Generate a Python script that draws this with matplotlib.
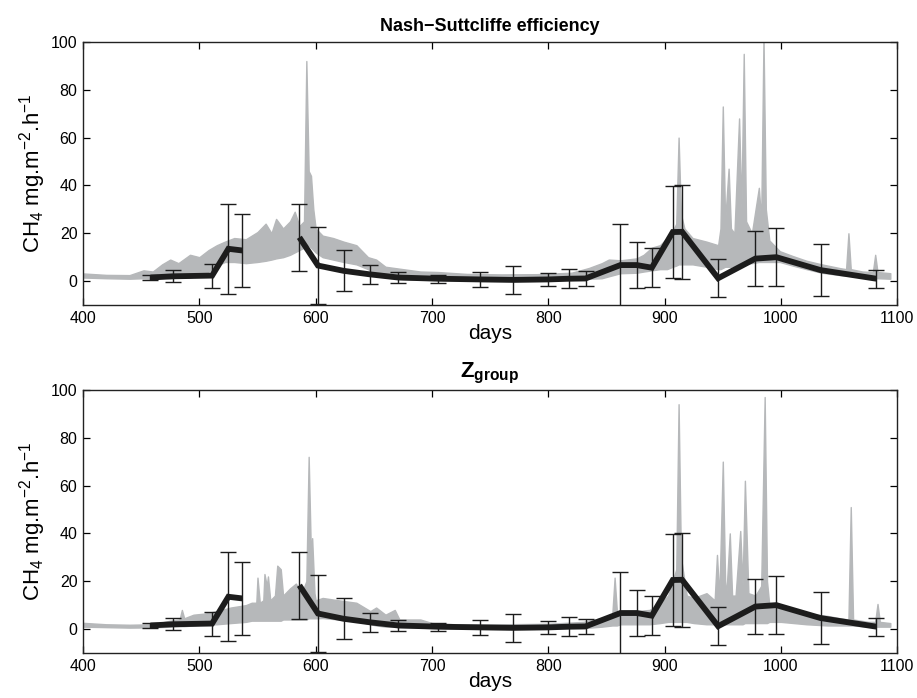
import numpy as np
import matplotlib
matplotlib.use("Agg")
import matplotlib.pyplot as plt

plt.rcParams['font.family'] = ['Liberation Sans', 'DejaVu Sans']
plt.rcParams['mathtext.fontset'] = 'custom'
plt.rcParams['mathtext.rm'] = 'Liberation Sans'
plt.rcParams['mathtext.it'] = 'Liberation Sans:italic'
plt.rcParams['mathtext.bf'] = 'Liberation Sans:bold'

# ---------------- data ----------------
# observed chamber means and standard deviations
obs_days = [458, 477, 511, 525, 537, 586, 602, 624, 647, 671, 705, 741, 770,
            800, 818, 832, 862, 876, 889, 907, 915, 946, 978, 996, 1034, 1082]
obs_mean = [1.5, 2.0, 2.3, 13.5, 12.8, 18.3, 6.5, 4.3, 2.8, 1.5, 1.0, 0.7, 0.5,
            0.7, 1.0, 1.1, 6.7, 6.7, 5.6, 20.5, 20.6, 1.2, 9.4, 10.0, 4.6, 1.0]
obs_sd = [1.0, 2.5, 5.0, 18.7, 15.3, 14.0, 16.2, 8.5, 4.0, 2.4, 1.7, 3.0, 5.9,
          2.6, 4.0, 3.3, 17.0, 9.5, 8.2, 19.3, 19.7, 7.9, 11.6, 12.0, 11.0, 3.7]
obs_segment = [1, 1, 1, 1, 1, 2, 2, 2, 2, 2, 2, 2, 2,
               2, 2, 2, 2, 2, 2, 2, 2, 2, 2, 2, 2, 2]

# ensemble envelope, Nash-Suttcliffe efficiency selection
nse_days = [400, 420, 440, 452, 460, 468, 475, 482, 492, 500, 508, 515, 522, 530,
            540, 550, 557, 562, 566, 572, 578, 582, 586, 590, 592, 594, 596, 598,
            600, 606, 615, 624, 635, 645, 652, 660, 675, 690, 705, 730, 760, 790,
            820, 835, 846, 852, 862, 876, 882, 889, 896, 902, 907, 910, 912, 914,
            917, 924, 936, 946, 948, 950, 952, 955, 957, 960, 964, 966, 968, 970,
            975, 981, 983, 985, 987, 990, 999, 1010, 1022, 1035, 1051, 1056, 1058,
            1060, 1070, 1079, 1081, 1083, 1094]
nse_low = [1.5, 1.2, 1.0, 1.2, 1.0, 1.5, 1.2, 1.5, 1.5, 2.5, 4.0, 6.5, 8.0, 8.0,
           7.5, 8.0, 8.5, 9.0, 9.5, 10.0, 11.0, 12.0, 13.0, 14.0, 15.0, 15.0, 14.0, 13.0,
           12.0, 10.0, 9.0, 8.0, 7.0, 5.0, 2.5, 1.5, 0.8, 0.6, 0.5, 0.4, 0.4, 0.4,
           0.5, 1.0, 1.2, 2.0, 3.3, 3.5, 4.0, 4.5, 5.0, 5.0, 6.0, 6.5, 7.0, 7.0,
           7.0, 7.0, 6.0, 5.0, 5.0, 5.5, 6.0, 6.0, 6.0, 6.5, 7.0, 7.0, 7.5, 7.5,
           7.5, 8.0, 8.0, 8.0, 8.0, 8.0, 8.0, 6.5, 5.0, 3.5, 2.5, 2.3, 2.2,
           2.2, 1.5, 1.2, 1.2, 1.2, 1.0]
nse_high = [3.2, 2.6, 2.5, 4.5, 4.0, 7.0, 9.0, 7.5, 11.0, 10.0, 13.0, 15.0, 16.5, 18.0,
            17.5, 20.5, 24.0, 20.0, 26.0, 22.0, 25.0, 29.0, 23.0, 25.0, 92.0, 46.0, 44.0, 30.0,
            22.0, 19.0, 18.0, 16.5, 15.0, 10.0, 9.0, 6.0, 5.0, 4.0, 3.8, 3.0, 2.8, 2.9,
            3.5, 5.5, 7.5, 9.0, 8.7, 9.5, 11.0, 14.0, 15.0, 18.0, 21.0, 24.0, 60.0, 28.0,
            22.0, 18.0, 16.5, 15.0, 22.0, 73.0, 25.0, 47.0, 22.0, 20.0, 68.0, 30.0, 95.0, 25.0,
            20.0, 39.0, 25.0, 102.0, 30.0, 17.0, 12.5, 10.5, 8.5, 7.0, 5.4, 5.0, 20.0,
            5.0, 4.0, 3.8, 11.0, 3.8, 3.3]

# ensemble envelope, Z_group selection
zg_days = [400, 420, 440, 460, 475, 483, 485, 487, 495, 505, 515, 527, 540, 545,
           549, 550, 552, 555, 556, 558, 559, 561, 565, 567, 570, 572, 578, 583,
           588, 592, 594, 596, 597, 599, 600, 606, 620, 635, 647, 652, 660, 668,
           672, 690, 700, 720, 760, 800, 830, 846, 855, 857, 859, 862, 875, 887,
           896, 903, 907, 910, 912, 914, 919, 925, 936, 943, 945, 947, 950, 952,
           953, 956, 958, 961, 965, 967, 969, 972, 978, 983, 986, 988, 990, 1000,
           1022, 1040, 1051, 1058, 1060, 1062, 1075, 1081, 1083, 1085, 1094]
zg_low = [1.0, 0.8, 0.6, 0.7, 1.0, 1.2, 1.2, 1.2, 1.5, 2.0, 2.0, 2.5, 3.0, 3.5,
          3.5, 3.5, 3.5, 3.5, 3.5, 3.5, 3.5, 3.5, 3.5, 3.5, 3.5, 4.0, 4.0, 4.0,
          4.0, 4.0, 4.5, 4.5, 4.5, 4.5, 4.5, 4.6, 4.0, 3.5, 2.0, 1.5, 1.0, 1.0,
          0.8, 0.6, 0.4, 0.3, 0.3, 0.3, 0.4, 1.0, 1.5, 1.5, 1.5, 2.0, 2.0, 2.0,
          2.5, 3.0, 3.0, 3.0, 3.0, 3.0, 3.0, 2.5, 2.0, 2.0, 2.0, 2.0, 2.0, 2.0,
          2.0, 2.0, 2.0, 2.0, 2.0, 2.0, 2.5, 2.5, 2.5, 2.5, 2.5, 2.5, 3.0, 3.0,
          2.0, 1.5, 1.5, 1.5, 1.5, 1.5, 1.0, 1.0, 1.0, 1.0, 1.0]
zg_high = [2.6, 2.0, 1.8, 2.0, 3.5, 4.0, 8.0, 4.5, 6.0, 6.5, 7.5, 9.0, 10.0, 11.0,
           11.0, 21.5, 11.0, 12.0, 23.0, 18.0, 22.0, 12.0, 14.0, 26.5, 25.0, 14.0, 17.0, 19.0,
           15.0, 20.0, 72.0, 30.0, 38.0, 15.0, 12.0, 13.0, 12.0, 11.0, 7.5, 9.0, 6.0, 8.0,
           4.0, 4.0, 2.5, 2.0, 2.0, 2.2, 3.0, 4.6, 6.0, 21.5, 7.0, 7.5, 7.5, 8.0,
           10.5, 14.0, 20.0, 25.0, 94.0, 30.0, 14.0, 13.0, 15.0, 12.0, 31.0, 13.0, 70.0, 20.0,
           14.0, 40.0, 14.0, 14.0, 41.0, 18.0, 62.0, 15.0, 14.0, 18.0, 97.0, 20.0, 10.0, 9.0,
           6.5, 5.5, 4.5, 4.0, 51.0, 4.0, 3.0, 3.0, 10.5, 3.0, 2.5]

x_ticks = [400, 500, 600, 700, 800, 900, 1000, 1100]
y_ticks = [0, 20, 40, 60, 80, 100]

# ---------------- plot ----------------
fig = plt.figure(figsize=(9.17, 6.98), dpi=100)
ax1 = fig.add_axes([0.0905, 0.563, 0.888, 0.377])
ax2 = fig.add_axes([0.0905, 0.0645, 0.888, 0.377])

gray = '#b6b8ba'
dark = '#1c1c1c'


def draw(ax, days, low, high, title, title_size, title_pad):
    ax.fill_between(days, low, high, color=gray, linewidth=1.0, edgecolor=gray, zorder=1)
    d = np.array(obs_days)
    m = np.array(obs_mean)
    s = np.array(obs_sd)
    seg = np.array(obs_segment)
    ax.errorbar(d, m, yerr=s, fmt='none', ecolor=dark, elinewidth=1.0,
                capsize=5.5, capthick=1.0, zorder=2)
    for g in np.unique(seg):
        sel = seg == g
        ax.plot(d[sel], m[sel], color=dark, linewidth=4.2,
                solid_capstyle='butt', solid_joinstyle='miter', zorder=3)
    ax.set_xlim(400, 1100)
    ax.set_ylim(-10, 100)
    ax.set_xticks(x_ticks)
    ax.set_yticks(y_ticks)
    ax.tick_params(direction='in', top=True, right=True, length=5, width=0.9,
                   labelsize=11.5, pad=4, colors='black')
    for sp in ax.spines.values():
        sp.set_linewidth(1.0)
        sp.set_color('#222222')
    ax.set_xlabel('days', fontsize=15, labelpad=-1)
    ax.set_ylabel(r'CH$_4$ mg.m$^{-2}$.h$^{-1}$', fontsize=16, labelpad=2)
    ax.set_title(title, fontsize=title_size, fontweight='bold', pad=title_pad)


draw(ax1, nse_days, nse_low, nse_high, 'Nash\u2212Suttcliffe efficiency', 13, 8)
draw(ax2, zg_days, zg_low, zg_high, r'$\mathbf{Z}_{\mathbf{group}}$', 16, 9)

fig.savefig('out.png', dpi=100)
